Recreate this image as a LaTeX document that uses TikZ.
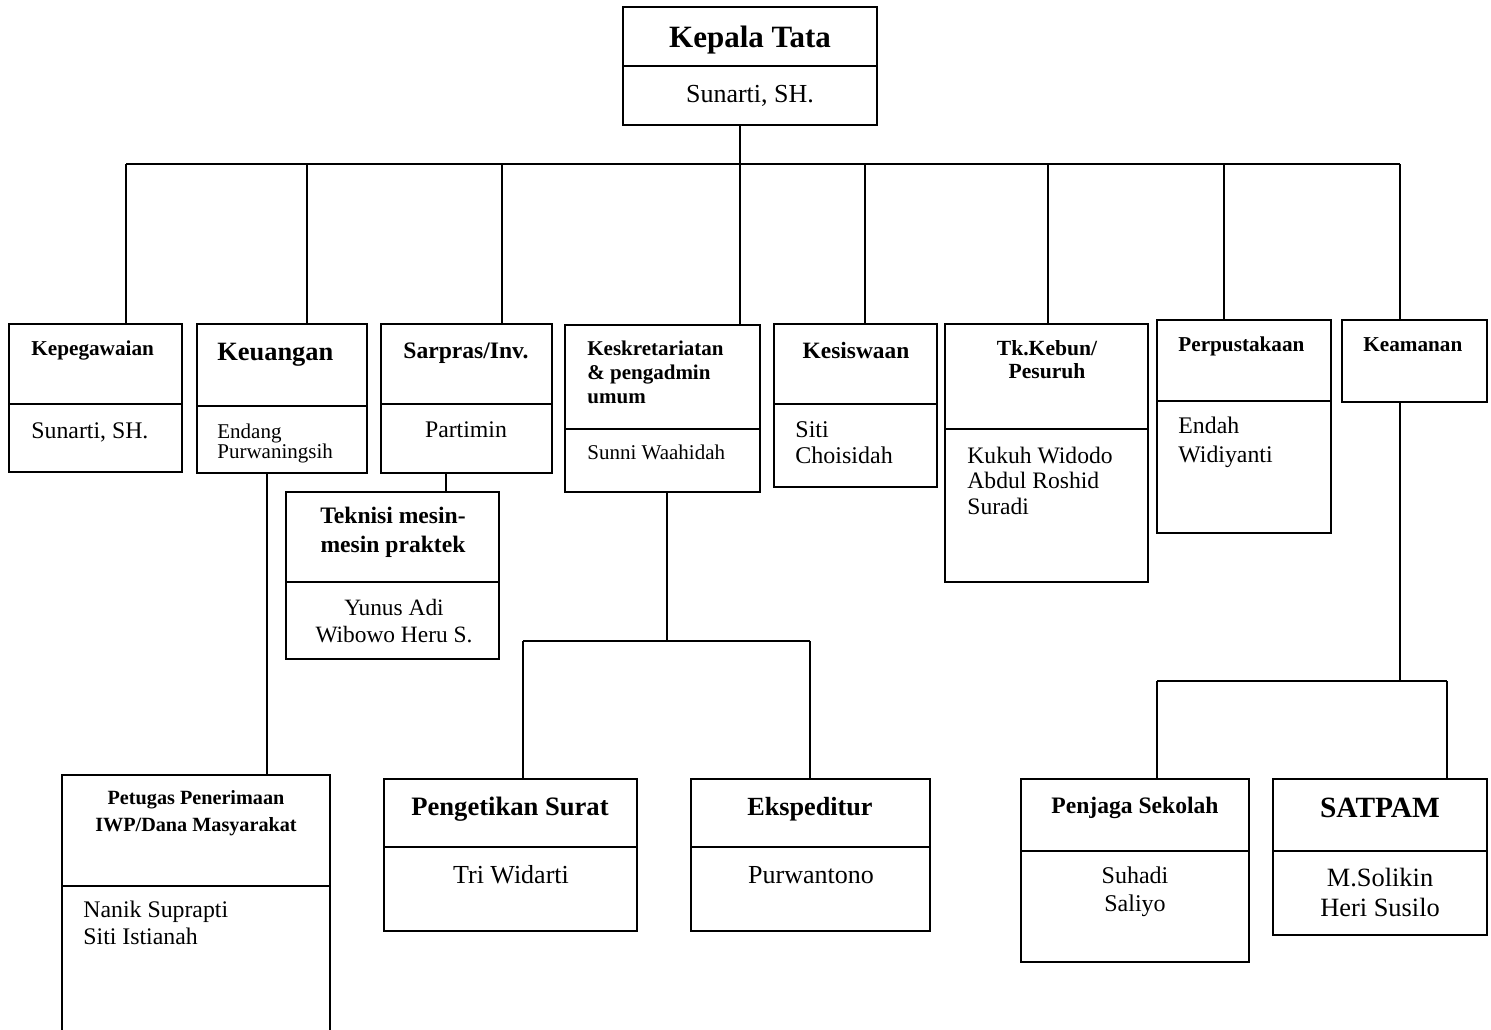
\documentclass[tikz,border=0pt]{standalone}
\usepackage{fontspec}
\setmainfont{Liberation Serif}
\usetikzlibrary{fit}
\newcommand{\myfs}[1]{\fontsize{#1}{#1}\selectfont}
\newcommand{\obox}[5]{\coordinate (#1-nw) at (#2,#3); \coordinate (#1-se) at (#4,#5); \node[box, fit=(#1-nw)(#1-se)] (#1) {};}
\newcommand{\odiv}[2]{\coordinate (#1-d) at (0,#2); \draw[divline] (#1.west |- #1-d) -- (#1.east |- #1-d);}
\tikzset{
 box/.style={draw, line width=1.1pt, inner sep=0pt, outer sep=0pt},
 divline/.style={line width=1.1pt},
 conn/.style={line width=0.9pt},
 tc/.style={inner sep=0pt, anchor=base},
 tl/.style={inner sep=0pt, anchor=base west},
}
\begin{document}
\begin{tikzpicture}[x=0.5pt,y=-0.5pt]
\useasboundingbox (0,0) rectangle (1491,1029);
\clip (0,0) rectangle (1491,1029);

% boxes
\obox{kepala}{623}{7}{877}{125} \odiv{kepala}{66}
\obox{kepeg}{9}{324}{182}{472} \odiv{kepeg}{404}
\obox{keu}{197}{324}{367}{473} \odiv{keu}{406}
\obox{sarpras}{381}{324}{552}{473} \odiv{sarpras}{404}
\obox{teknisi}{286}{492}{499}{659} \odiv{teknisi}{582}
\obox{kesk}{565}{325}{760}{492} \odiv{kesk}{429}
\obox{kesis}{774}{324}{937}{487} \odiv{kesis}{404}
\obox{kebun}{945}{324}{1148}{582} \odiv{kebun}{429}
\obox{perpus}{1157}{320}{1331}{533} \odiv{perpus}{401}
\obox{keam}{1342}{320}{1487}{402}
\obox{petugas}{62}{775}{330}{1045} \odiv{petugas}{886}
\obox{peng}{384}{779}{637}{931} \odiv{peng}{847}
\obox{eksp}{691}{779}{930}{931} \odiv{eksp}{847}
\obox{penjaga}{1021}{779}{1249}{962} \odiv{penjaga}{851}
\obox{satpam}{1273}{779}{1487}{935} \odiv{satpam}{851}

% texts
\node[tc, font=\myfs{15.5}\bfseries] (t-kepala) at (750,47) {Kepala Tata};
\node[tc, font=\myfs{13}] (n-kepala) at (750,102) {Sunarti, SH.};

\node[tl, font=\myfs{10.6}\bfseries] (t-kepeg) at (31,355) {Kepegawaian};
\node[tl, font=\myfs{11.9}] (n-kepeg) at (31,438) {Sunarti, SH.};

\node[tl, font=\myfs{13.2}\bfseries] (t-keu) at (217,360) {Keuangan};
\node[tl, font=\myfs{10.5}] (n-keu1) at (217,438) {Endang};
\node[tl, font=\myfs{10.5}] (n-keu2) at (217,458) {Purwaningsih};

\node[tc, font=\myfs{11.8}\bfseries] (t-sarpras) at (466,358) {Sarpras/Inv.};
\node[tc, font=\myfs{11.9}] (n-sarpras) at (466,437) {Partimin};

\node[tc, font=\myfs{11.8}\bfseries] (t-tek1) at (393,523) {Teknisi mesin-};
\node[tc, font=\myfs{11.8}\bfseries] (t-tek2) at (393,552) {mesin praktek};
\node[tc, font=\myfs{11.7}] (n-tek1) at (394,615) {Yunus Adi};
\node[tc, font=\myfs{11.7}] (n-tek2) at (394,642) {Wibowo Heru S.};

\node[tl, font=\myfs{10.5}\bfseries] (t-kesk1) at (587,355) {Keskretariatan};
\node[tl, font=\myfs{10.5}\bfseries] (t-kesk2) at (587,379) {\& pengadmin};
\node[tl, font=\myfs{10.5}\bfseries] (t-kesk3) at (587,403) {umum};
\node[tl, font=\myfs{10.5}] (n-kesk) at (587,459) {Sunni Waahidah};

\node[tc, font=\myfs{11.7}\bfseries] (t-kesis) at (856,358) {Kesiswaan};
\node[tl, font=\myfs{12}] (n-kesis1) at (795,437) {Siti};
\node[tl, font=\myfs{12}] (n-kesis2) at (795,463) {Choisidah};

\node[tc, font=\myfs{10.8}\bfseries] (t-kebun1) at (1047,355) {Tk.Kebun/};
\node[tc, font=\myfs{10.8}\bfseries] (t-kebun2) at (1047,378) {Pesuruh};
\node[tl, font=\myfs{11.8}] (n-kebun1) at (967,463) {Kukuh Widodo};
\node[tl, font=\myfs{11.8}] (n-kebun2) at (967,488) {Abdul Roshid};
\node[tl, font=\myfs{11.8}] (n-kebun3) at (967,514) {Suradi};

\node[tl, font=\myfs{10.6}\bfseries] (t-perpus) at (1178,351) {Perpustakaan};
\node[tl, font=\myfs{11.9}] (n-perpus1) at (1178,433) {Endah};
\node[tl, font=\myfs{11.9}] (n-perpus2) at (1178,462) {Widiyanti};

\node[tl, font=\myfs{10.6}\bfseries] (t-keam) at (1363,351) {Keamanan};

\node[tc, font=\myfs{10.1}\bfseries] (t-pet1) at (196,804) {Petugas Penerimaan};
\node[tc, font=\myfs{10.1}\bfseries] (t-pet2) at (196,831) {IWP/Dana Masyarakat};
\node[tl, font=\myfs{11.9}] (n-pet1) at (83,917) {Nanik Suprapti};
\node[tl, font=\myfs{11.9}] (n-pet2) at (83,944) {Siti Istianah};

\node[tc, font=\myfs{13.3}\bfseries] (t-peng) at (510,815) {Pengetikan Surat};
\node[tc, font=\myfs{13}] (n-peng) at (511,883) {Tri Widarti};

\node[tc, font=\myfs{13.1}\bfseries] (t-eksp) at (810,815) {Ekspeditur};
\node[tc, font=\myfs{13}] (n-eksp) at (811,883) {Purwantono};

\node[tc, font=\myfs{11.8}\bfseries] (t-penjaga) at (1135,813) {Penjaga Sekolah};
\node[tc, font=\myfs{12}] (n-penjaga1) at (1135,883) {Suhadi};
\node[tc, font=\myfs{12}] (n-penjaga2) at (1135,911) {Saliyo};

\node[tc, font=\myfs{14.7}\bfseries] (t-satpam) at (1380,817) {SATPAM};
\node[tc, font=\myfs{13.2}] (n-satpam1) at (1380,886) {M.Solikin};
\node[tc, font=\myfs{13.2}] (n-satpam2) at (1380,916) {Heri Susilo};

% connectors
\coordinate (k0) at (740,164);
\coordinate (bL) at (126,164);
\coordinate (bR) at (1400,164);
\draw[conn] (k0 |- kepala.south) -- (k0);
\draw[conn] (bL) -- (bR);
\foreach \n/\x in {kepeg/126, keu/307, sarpras/502, kesk/740, kesis/865, kebun/1048, perpus/1224, keam/1400} {
  \coordinate (c-\n) at (\x,164);
  \draw[conn] (c-\n) -- (c-\n |- \n.north);
}
\coordinate (e1) at (267,0);
\draw[conn] (e1 |- keu.south) -- (e1 |- petugas.north);
\coordinate (e2) at (446,0);
\draw[conn] (e2 |- sarpras.south) -- (e2 |- teknisi.north);

\coordinate (kb) at (667,641);
\coordinate (kbL) at (523,641);
\coordinate (kbR) at (810,641);
\draw[conn] (kb |- kesk.south) -- (kb);
\draw[conn] (kbL) -- (kbR);
\draw[conn] (kbL) -- (kbL |- peng.north);
\draw[conn] (kbR) -- (kbR |- eksp.north);

\coordinate (sb) at (1400,681);
\coordinate (sbL) at (1157,681);
\coordinate (sbR) at (1447,681);
\draw[conn] (sb |- keam.south) -- (sb);
\draw[conn] (sbL) -- (sbR);
\draw[conn] (sbL) -- (sbL |- penjaga.north);
\draw[conn] (sbR) -- (sbR |- satpam.north);
\end{tikzpicture}
\end{document}
